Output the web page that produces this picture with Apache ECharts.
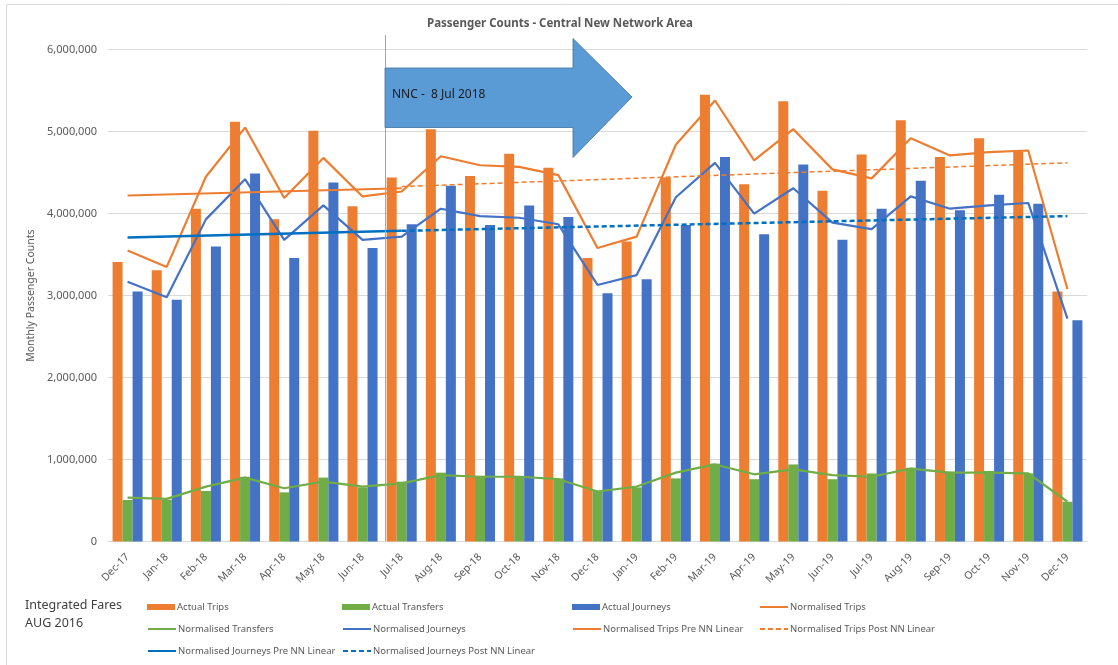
<!DOCTYPE html>
<html lang="en">
<head>
    <meta charset="UTF-8">
    <title>Passenger Counts - Central New Network Area</title>
    <script src="https://cdn.jsdelivr.net/npm/echarts@6/dist/echarts.min.js"></script>
    <style>
        html, body { margin: 0; padding: 0; background: #fff; }
        #myCharts { width: 1118px; height: 665px; }
    </style>
</head>
<body>
    <div id="myCharts"></div>
    <script type="text/javascript">
        var months = ['Dec-17', 'Jan-18', 'Feb-18', 'Mar-18', 'Apr-18', 'May-18', 'Jun-18', 'Jul-18',
            'Aug-18', 'Sep-18', 'Oct-18', 'Nov-18', 'Dec-18', 'Jan-19', 'Feb-19', 'Mar-19', 'Apr-19',
            'May-19', 'Jun-19', 'Jul-19', 'Aug-19', 'Sep-19', 'Oct-19', 'Nov-19', 'Dec-19']

        var actualTrips = [3410000, 3310000, 4060000, 5120000, 3930000, 5010000, 4090000, 4440000,
            5030000, 4460000, 4730000, 4560000, 3460000, 3660000, 4440000, 5450000, 4360000,
            5370000, 4280000, 4720000, 5140000, 4690000, 4920000, 4760000, 3050000]
        var actualTransfers = [506000, 510000, 616000, 790000, 600000, 780000, 660000, 730000,
            840000, 800000, 800000, 770000, 620000, 660000, 770000, 950000, 760000,
            940000, 760000, 830000, 900000, 850000, 860000, 830000, 485000]
        var actualJourneys = [3050000, 2950000, 3600000, 4490000, 3460000, 4380000, 3580000, 3870000,
            4340000, 3860000, 4100000, 3960000, 3030000, 3200000, 3860000, 4690000, 3750000,
            4600000, 3680000, 4060000, 4400000, 4040000, 4230000, 4120000, 2700000]
        var normTrips = [3550000, 3350000, 4450000, 5050000, 4190000, 4680000, 4210000, 4270000,
            4700000, 4590000, 4570000, 4470000, 3580000, 3720000, 4840000, 5380000, 4650000,
            5030000, 4540000, 4430000, 4920000, 4710000, 4750000, 4770000, 3080000]
        var normTransfers = [535000, 520000, 670000, 780000, 650000, 730000, 670000, 710000,
            810000, 790000, 790000, 760000, 610000, 670000, 840000, 940000, 820000,
            880000, 810000, 790000, 890000, 840000, 840000, 830000, 485000]
        var normJourneys = [3170000, 2980000, 3930000, 4420000, 3680000, 4100000, 3680000, 3720000,
            4060000, 3970000, 3950000, 3870000, 3130000, 3250000, 4200000, 4620000, 4000000,
            4310000, 3890000, 3810000, 4210000, 4060000, 4100000, 4130000, 2720000]

        // linear trend end points: [startMonth, startValue, endMonth, endValue]
        var tripsPreLinear = ['Dec-17', 4220000, 'Jul-18', 4310000]
        var tripsPostLinear = ['Jul-18', 4330000, 'Dec-19', 4620000]
        var journeysPreLinear = ['Dec-17', 3710000, 'Jul-18', 3790000]
        var journeysPostLinear = ['Jul-18', 3790000, 'Dec-19', 3970000]

        var yTicks = [0, 1000000, 2000000, 3000000, 4000000, 5000000, 6000000]

        function trendData(ends) {
            let arr = months.map(() => null)
            arr[months.indexOf(ends[0])] = ends[1]
            arr[months.indexOf(ends[2])] = ends[3]
            return arr
        }

        var ORANGE = '#ED7D31', GREEN = '#70AD47', BLUE = '#4472C4', DBLUE = '#0070C0'
        var FONT = 'Noto Sans'

        function barSeries(name, color, data) {
            return { name: name, type: 'bar', barWidth: 10, barGap: '0%', itemStyle: { color: color }, data: data, z: 2 }
        }
        function lineSeries(name, color, width, data, dashed, connect) {
            return {
                name: name, type: 'line', symbol: 'none', z: 5,
                connectNulls: !!connect,
                lineStyle: { color: color, width: width, type: dashed ? [5, 3] : 'solid' },
                itemStyle: { color: color },
                data: data
            }
        }

        var series = [
            barSeries('Actual Trips', ORANGE, actualTrips),
            barSeries('Actual Transfers', GREEN, actualTransfers),
            barSeries('Actual Journeys', BLUE, actualJourneys),
            lineSeries('Normalised Trips', ORANGE, 2.2, normTrips),
            lineSeries('Normalised Transfers', GREEN, 2.2, normTransfers),
            lineSeries('Normalised Journeys', BLUE, 2.2, normJourneys),
            lineSeries('Normalised Trips Pre NN Linear', ORANGE, 2, trendData(tripsPreLinear), false, true),
            lineSeries('Normalised Trips Post NN Linear', ORANGE, 1.5, trendData(tripsPostLinear), true, true),
            lineSeries('Normalised Journeys Pre NN Linear', DBLUE, 2.5, trendData(journeysPreLinear), false, true),
            lineSeries('Normalised Journeys Post NN Linear', DBLUE, 2.5, trendData(journeysPostLinear), true, true)
        ]

        // legend laid out as 4 columns x 3 rows
        var legendCols = [147, 342, 572, 759]
        var legendRows = [600, 622, 644]
        var legends = series.map((s, i) => {
            let isBar = s.type === 'bar'
            let lg = {
                data: [s.name],
                left: legendCols[i % 4],
                top: legendRows[Math.floor(i / 4)],
                padding: 0,
                itemWidth: 28,
                itemHeight: isBar ? 6 : 14,
                selectedMode: false,
                textStyle: { color: '#595959', fontFamily: FONT, fontSize: 9.5, lineHeight: 14, padding: [0, 0, 0, -3] }
            }
            if (isBar) lg.icon = 'rect'
            else lg.itemStyle = { opacity: 0 }
            return lg
        })

        var myChart = echarts.init(document.getElementById('myCharts'))
        var option = {
            animation: false,
            backgroundColor: '#fff',
            title: {
                text: 'Passenger Counts - Central New Network Area',
                left: 427,
                top: 18,
                padding: 0,
                textStyle: { color: '#595959', fontFamily: FONT, fontSize: 11.5, fontWeight: 'bold' }
            },
            legend: legends,
            grid: { left: 108, right: 31, top: 49.7, bottom: 123.5 },
            xAxis: {
                type: 'category',
                data: months,
                axisLine: { lineStyle: { color: '#d9d9d9' } },
                axisTick: { show: false },
                axisLabel: { rotate: 45, color: '#595959', fontFamily: FONT, fontSize: 10.5, margin: 14, interval: 0 }
            },
            yAxis: {
                type: 'value',
                min: yTicks[0],
                max: yTicks[yTicks.length - 1],
                interval: yTicks[1] - yTicks[0],
                name: 'Monthly Passenger Counts',
                nameLocation: 'middle',
                nameGap: 63,
                nameTextStyle: { color: '#595959', fontFamily: FONT, fontSize: 10.5 },
                axisLine: { show: false },
                axisTick: { show: false },
                splitLine: { lineStyle: { color: '#d9d9d9' } },
                axisLabel: {
                    color: '#595959', fontFamily: FONT, fontSize: 11, margin: 11,
                    formatter: function (v) { return v.toLocaleString('en-US') }
                }
            },
            graphic: [
                { type: 'line', shape: { x1: 7, y1: 4.5, x2: 1118, y2: 4.5 }, style: { stroke: '#d9d9d9', lineWidth: 1 } },
                { type: 'line', shape: { x1: 6.5, y1: 4.5, x2: 6.5, y2: 665 }, style: { stroke: '#d9d9d9', lineWidth: 1 } },
                { type: 'line', z: 10, shape: { x1: 385.5, y1: 35, x2: 385.5, y2: 541 }, style: { stroke: '#7FAEE0', lineWidth: 1 } },
                {
                    type: 'polygon', z: 20,
                    shape: { points: [[385, 68], [573, 68], [573, 38.5], [632, 97], [573, 157.5], [573, 127.5], [385, 127.5]] },
                    style: { fill: '#5B9BD5', stroke: '#41719C', lineWidth: 0.8 }
                },
                {
                    type: 'text', z: 21, left: 392, top: 89,
                    style: { text: 'NNC -  8 Jul 2018', fill: '#1a1a1a', font: '12px "Noto Sans"' }
                },
                {
                    type: 'text', left: 25, top: 597,
                    style: { text: 'Integrated Fares\nAUG 2016', fill: '#404040', font: '12.5px "Noto Sans"', lineHeight: 17.5 }
                }
            ],
            series: series
        }
        myChart.setOption(option, true)
    </script>
</body>
</html>
